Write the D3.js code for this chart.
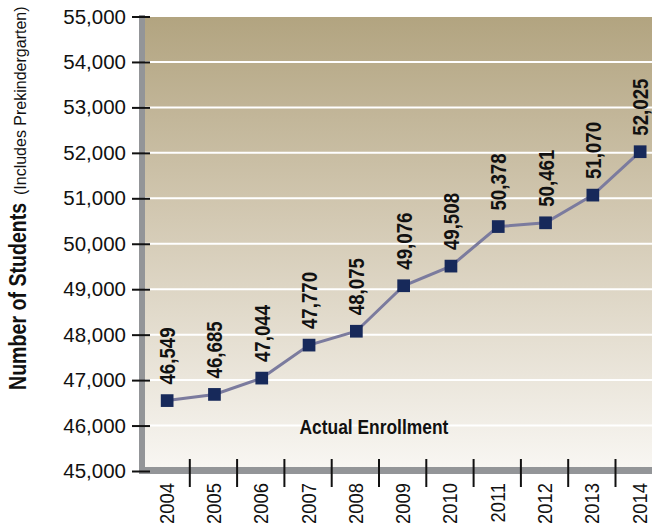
<!DOCTYPE html>
<html><head><meta charset="utf-8">
<script src="https://cdn.jsdelivr.net/npm/d3@7"></script>
<style>body{margin:0;background:#fff}svg{display:block}</style>
</head><body>
<svg id="c" width="652" height="529"></svg>
<script>
const years = ["2004","2005","2006","2007","2008","2009","2010","2011","2012","2013","2014"];
const enrollment = [46549,46685,47044,47770,48075,49076,49508,50378,50461,51070,52025];
const yTicks = [45000,46000,47000,48000,49000,50000,51000,52000,53000,54000,55000];
const seriesLabel = "Actual Enrollment";
const yTitleMain = "Number of Students";
const yTitleSub = "(Includes Prekindergarten)";

const svg = d3.select("#c");
const W = 652, H = 529;
const FONT = "'Liberation Sans', Arial, sans-serif";
const x = d3.scaleBand().domain(years).range([142.5, 662.8]).padding(0);
const y = d3.scaleLinear().domain([45000,55000]).range([471, 16.5]);
const plotL = 145, plotT = 17, plotB = 467;

const defs = svg.append("defs");
const g = defs.append("linearGradient").attr("id","bg").attr("x1",0).attr("y1",0).attr("x2",0).attr("y2",1);
g.append("stop").attr("offset","0%").attr("stop-color","#b2a480");
g.append("stop").attr("offset","45%").attr("stop-color","#d3c9b3");
g.append("stop").attr("offset","100%").attr("stop-color","#f8f6f2");

// background
svg.append("rect").attr("x",plotL).attr("y",plotT).attr("width",W-plotL).attr("height",plotB-plotT).attr("fill","url(#bg)");
// grid
svg.append("g").selectAll("line").data(yTicks.filter(t=>t>45000&&t<55000)).join("line")
  .attr("x1",plotL).attr("x2",W).attr("y1",d=>y(d)).attr("y2",d=>y(d))
  .attr("stroke","#fff").attr("stroke-width",2);
// wall and floor
svg.append("rect").attr("x",139).attr("y",15).attr("width",6).attr("height",474-15).attr("fill","#939598");
svg.append("rect").attr("x",139).attr("y",plotB).attr("width",W-139).attr("height",7).attr("fill","#939598");

// y axis
const yAxis = d3.axisLeft(y).tickValues(yTicks).tickFormat(d3.format(",")).tickSize(18).tickPadding(6);
const ya = svg.append("g").attr("transform","translate(150,0)").call(yAxis);
ya.select(".domain").remove();
ya.selectAll(".tick line").attr("stroke","#111").attr("stroke-width",2);
ya.selectAll(".tick text").attr("font-family",FONT).attr("font-size",20.5).attr("fill","#111");

// x separators
const bounds = years.slice(1).map(d=>x(d));
svg.append("g").selectAll("line").data(bounds).join("line")
  .attr("x1",d=>d).attr("x2",d=>d).attr("y1",459).attr("y2",487)
  .attr("stroke","#111").attr("stroke-width",2);
// x labels
svg.append("g").selectAll("text").data(years).join("text")
  .attr("transform",d=>`translate(${x(d)+x.bandwidth()/2+7.5},483) rotate(-90) scale(0.92,1)`)
  .attr("text-anchor","end")
  .attr("font-family",FONT).attr("font-size",20).attr("fill","#111")
  .text(d=>d);

// line
const cx = (d,i)=>x(years[i])+x.bandwidth()/2+1;
const line = d3.line().x((d,i)=>cx(d,i)).y(d=>y(d));
svg.append("path").datum(enrollment).attr("d",line).attr("fill","none").attr("stroke","#7b7b9e").attr("stroke-width",3);
const ms = 12.7;
svg.append("g").selectAll("rect").data(enrollment).join("rect")
  .attr("x",(d,i)=>cx(d,i)-ms/2).attr("y",d=>y(d)-ms/2).attr("width",ms).attr("height",ms).attr("fill","#17295a");
// value labels
svg.append("g").selectAll("text").data(enrollment).join("text")
  .attr("transform",(d,i)=>`translate(${cx(d,i)+8},${y(d)-16}) rotate(-90) scale(0.85,1)`)
  .attr("font-family",FONT)
  .attr("font-weight","bold").attr("font-size",22).attr("fill","#111")
  .text(d=>d3.format(",")(d));

// series label
svg.append("text").attr("transform","translate(299.5,434.3) scale(0.87,1)")
  .attr("font-family",FONT)
  .attr("font-weight","bold").attr("font-size",20).attr("fill","#111").text(seriesLabel);

// y title
svg.append("text").attr("transform","translate(26,390) rotate(-90) scale(0.8,1)").attr("fill","#111")
  .attr("font-family",FONT).attr("font-weight","bold").attr("font-size",24.5).text(yTitleMain);
svg.append("text").attr("transform","translate(26,195) rotate(-90)").attr("fill","#111")
  .attr("font-family",FONT).attr("font-size",16).text(yTitleSub);
</script>
</body></html>
